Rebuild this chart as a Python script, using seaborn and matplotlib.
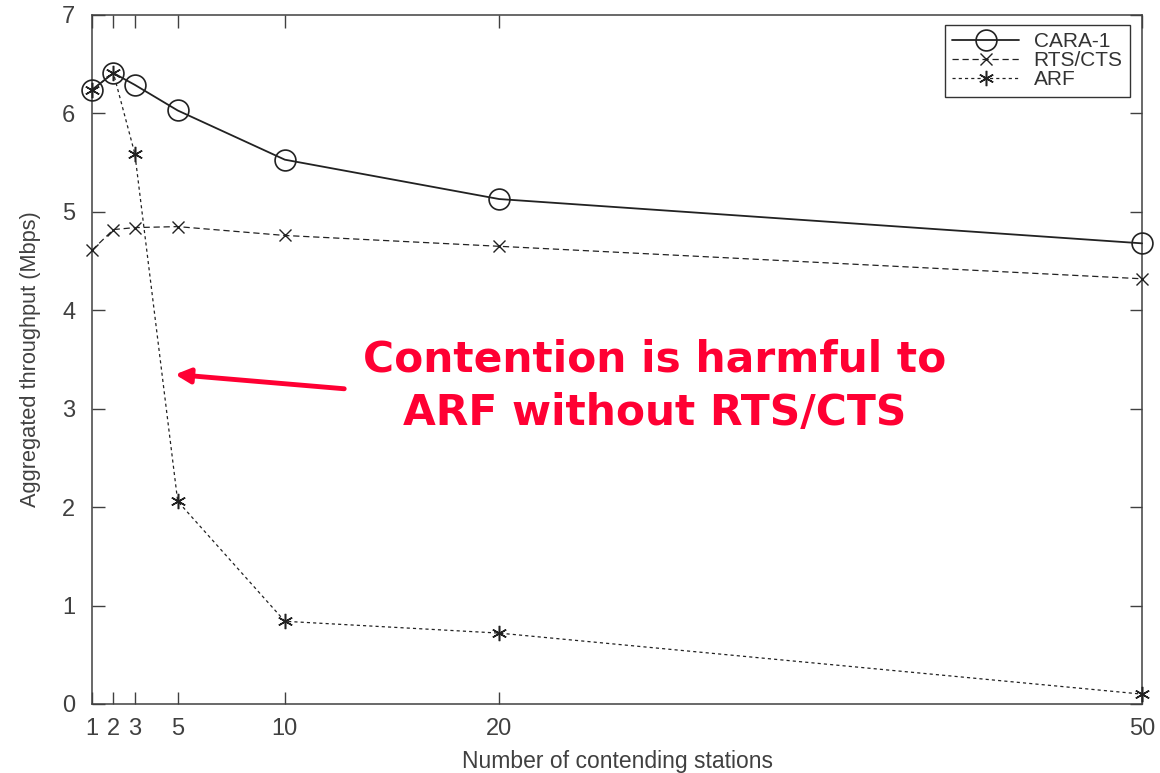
import numpy as np
import pandas as pd
import seaborn as sns
import matplotlib.pyplot as plt

# values
stations = [1, 2, 3, 5, 10, 20, 50]
cara1 = [6.24, 6.41, 6.29, 6.03, 5.53, 5.13, 4.68]
rts_cts = [4.61, 4.82, 4.84, 4.85, 4.76, 4.65, 4.32]
arf = [6.24, 6.41, 5.59, 2.06, 0.84, 0.72, 0.10]
yticks = [0, 1, 2, 3, 4, 5, 6, 7]

sns.set_style("ticks")
plt.rcParams['font.family'] = ['Liberation Sans', 'DejaVu Sans']

fig = plt.figure(figsize=(11.6, 7.73), dpi=100)
ax = fig.add_axes([0.0793, 0.0893, 0.9052, 0.8913])

grey = '#404040'
asterisk = (6, 2, 0)

sns.lineplot(x=stations, y=cara1, ax=ax, color='#222222', lw=1.3,
             marker='o', markersize=15, markerfacecolor='none',
             markeredgecolor='#222222', markeredgewidth=1.2, label='CARA-1',
             clip_on=False, zorder=3)
sns.lineplot(x=stations, y=rts_cts, ax=ax, color='#222222', lw=0.9,
             dashes=(5, 3), marker='x', markersize=9,
             markeredgecolor='#222222', markeredgewidth=1.0, label='RTS/CTS',
             clip_on=False, zorder=3)
sns.lineplot(x=stations, y=arf, ax=ax, color='#222222', lw=0.9,
             dashes=(2.5, 2.5), marker=asterisk, markersize=11,
             markeredgecolor='#222222', markeredgewidth=1.1, label='ARF',
             clip_on=False, zorder=3)

ax.set_xlim(1, 50)
ax.set_ylim(0, 7)
ax.set_xticks(stations)
ax.set_yticks(yticks)
ax.tick_params(direction='in', length=9, width=1, color=grey,
               top=True, right=True, labelsize=17, labelcolor=grey)
ax.tick_params(axis='x', pad=10)
ax.tick_params(axis='y', pad=12)
for s in ax.spines.values():
    s.set_color(grey)
    s.set_linewidth(1.1)

ax.set_xlabel('Number of contending stations', fontsize=16.5, color=grey, labelpad=7)
ax.set_ylabel('Aggregated throughput (Mbps)', fontsize=15.7, color=grey, labelpad=15)

leg = ax.legend(loc='upper right', bbox_to_anchor=(1130 / 1160, 1 - 25 / 773),
                bbox_transform=fig.transFigure, borderaxespad=0,
                fontsize=15, frameon=True, fancybox=False,
                edgecolor='#333333', framealpha=1, handlelength=3.2,
                labelspacing=0.0, borderpad=0.35, handletextpad=0.7)
leg.get_frame().set_linewidth(1.0)
for t in leg.get_texts():
    t.set_color('#333333')

# annotation
ax.text(655, 387, 'Contention is harmful to\nARF without RTS/CTS',
        transform=None, fontsize=30.5, fontweight='bold', color='#ff0033',
        family='DejaVu Sans', ha='center', va='center', linespacing=1.35)
ax.annotate('', xy=(4.75, 3.35), xytext=(12.9, 3.2),
            arrowprops=dict(arrowstyle='-|>', color='#ff0033', lw=3.5,
                            mutation_scale=22))

fig.savefig('out.png', dpi=100)
